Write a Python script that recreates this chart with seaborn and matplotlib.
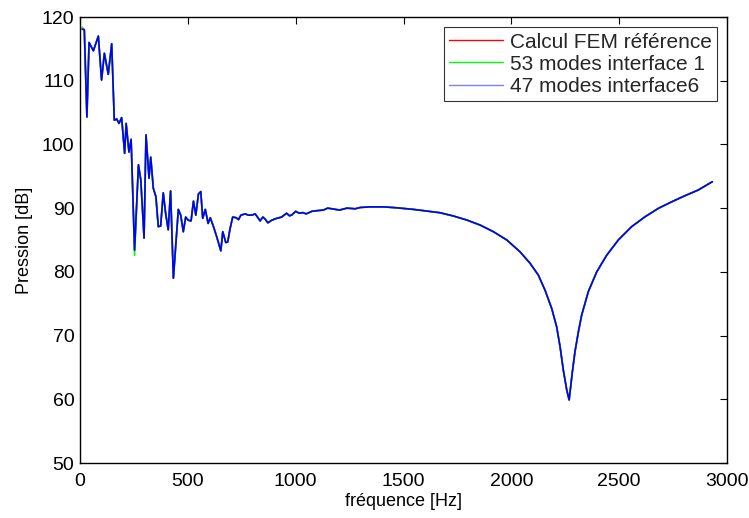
import matplotlib
matplotlib.use("Agg")
import matplotlib.pyplot as plt
import seaborn as sns
import pandas as pd

freq = [10, 20, 32, 42, 62, 85, 100, 113, 131, 147, 159, 170, 181, 193, 207, 214, 227, 237,
        253, 271, 282, 297, 306, 320, 328, 340, 352, 363, 374, 386, 397, 409, 420, 433,
        456, 467, 479, 490, 502, 515, 526, 537, 549, 560, 569, 581, 594, 604, 618, 634,
        653, 662, 676, 685, 696, 708, 724, 735, 746, 766, 781, 797, 812, 823, 835, 848,
        858, 871, 889, 912, 935, 958, 971, 981, 1000, 1017, 1033, 1049, 1075, 1098, 1129,
        1148, 1168, 1203, 1238, 1276, 1299, 1346, 1408, 1470, 1547, 1669, 1731, 1793,
        1855, 1917, 1979, 2040, 2087, 2125, 2156, 2187, 2210, 2226, 2241, 2257, 2268,
        2283, 2295, 2311, 2326, 2357, 2396, 2442, 2496, 2558, 2620, 2682, 2744, 2805,
        2867, 2932]

fem_ref = [118.1, 118.0, 104.3, 116.0, 114.7, 117.0, 110.1, 114.3, 111.0, 115.8, 103.8, 104.0,
           103.3, 104.2, 98.6, 103.3, 98.8, 100.8, 83.4, 96.8, 94.4, 85.3, 101.5, 94.7, 98.0,
           93.1, 91.8, 87.1, 87.2, 92.4, 89.2, 86.6, 92.7, 79.0, 89.8, 88.9, 86.3, 88.6, 88.1,
           88.0, 91.1, 88.9, 92.2, 92.6, 88.4, 89.8, 87.6, 88.5, 87.2, 85.5, 83.3, 86.3, 84.6,
           84.7, 86.8, 88.6, 88.5, 88.2, 88.9, 89.1, 88.9, 88.9, 89.1, 88.6, 88.0, 88.6, 88.3,
           87.7, 88.1, 88.4, 88.6, 89.2, 88.8, 88.9, 89.5, 89.2, 89.3, 89.1, 89.5, 89.6, 89.7,
           90.0, 89.9, 89.7, 90.0, 89.9, 90.1, 90.2, 90.2, 90.05, 89.8, 89.28, 88.77, 88.14,
           87.35, 86.3, 85.0, 83.16, 81.34, 79.5, 77.15, 74.28, 71.4, 68.25, 64.6, 61.45, 59.9,
           64.3, 67.45, 70.6, 73.2, 76.9, 80.0, 82.6, 85.0, 87.1, 88.65, 89.97, 91.0, 91.95,
           92.85, 94.15]

# points where the modal reductions visibly differ from the reference
modes53_diff = {10: 118.4, 253: 82.6}
modes47_diff = {}

modes53 = [modes53_diff.get(f, v) for f, v in zip(freq, fem_ref)]
modes47 = [modes47_diff.get(f, v) for f, v in zip(freq, fem_ref)]

labels = ["Calcul FEM référence", "53 modes interface 1", "47 modes interface6"]
colors = ["#ff0000", "#00ff00", "#0000ff"]

df = pd.concat([
    pd.DataFrame({"f": freq, "p": fem_ref, "s": labels[0]}),
    pd.DataFrame({"f": freq, "p": modes53, "s": labels[1]}),
    pd.DataFrame({"f": freq, "p": modes47, "s": labels[2]}),
])

sns.set_theme(style="white")
plt.rcParams["font.family"] = ["Liberation Sans", "DejaVu Sans"]

fig = plt.figure(figsize=(7.49, 5.18), dpi=100)
ax = fig.add_axes([80 / 749, 1 - 463 / 518, 647 / 749, 446 / 518])

sns.lineplot(data=df, x="f", y="p", hue="s", palette=dict(zip(labels, colors)),
             hue_order=labels, linewidth=1.2, ax=ax, estimator=None, sort=False)

ax.set_xlim(0, 3000)
ax.set_ylim(50, 120)
ax.set_xticks([0, 500, 1000, 1500, 2000, 2500, 3000])
ax.set_yticks([50, 60, 70, 80, 90, 100, 110, 120])
ax.tick_params(direction="in", length=5, width=0.8, top=True, right=True,
               labelsize=14, colors="black", pad=4)
ax.tick_params(axis="x", pad=7)
for sp in ax.spines.values():
    sp.set_visible(True)
    sp.set_color("black")
    sp.set_linewidth(1.0)
ax.set_xlabel("fréquence [Hz]", fontsize=13, color="black", labelpad=2)
ax.set_ylabel("Pression [dB]", fontsize=13, color="black", labelpad=6)

leg = ax.legend(loc="upper right", fontsize=15, frameon=True, fancybox=False,
                edgecolor="black", handlelength=2.6, handletextpad=0.3,
                borderpad=0.25, labelspacing=0.15, borderaxespad=0.5)
leg.get_frame().set_linewidth(0.8)
for h in leg.get_lines():
    h.set_linewidth(1.0)
leg.get_lines()[2].set_color("#7f7fff")

fig.savefig("out.png", dpi=100)
